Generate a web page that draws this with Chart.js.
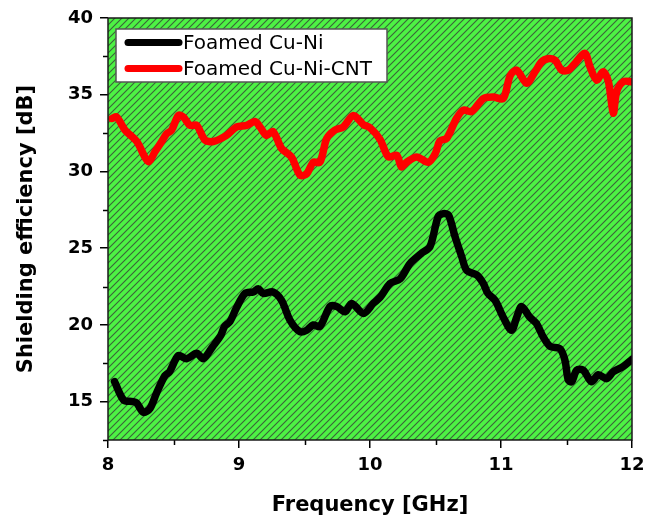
<!DOCTYPE html>
<html>
<head>
<meta charset="utf-8">
<script src="https://cdn.jsdelivr.net/npm/chart.js@4.4.1/dist/chart.umd.min.js"></script>
<style>
  html, body { margin: 0; padding: 0; background: #ffffff; }
  canvas { display: block; }
</style>
</head>
<body>
<canvas id="c" width="646" height="523"></canvas>
<script>
// ---- data ----
const seriesLabels = ['Foamed Cu-Ni', 'Foamed Cu-Ni-CNT'];

const freqCuNi = [8.05, 8.12, 8.19, 8.22, 8.27, 8.32, 8.37, 8.435, 8.47, 8.537,
  8.60, 8.677, 8.728, 8.80, 8.86, 8.89, 8.93, 8.98, 9.046, 9.11,
  9.148, 9.185, 9.26, 9.325, 9.39, 9.466, 9.517, 9.567, 9.618, 9.695,
  9.746, 9.81, 9.86, 9.95, 10.025, 10.077, 10.153, 10.23, 10.305, 10.39,
  10.458, 10.52, 10.56, 10.6, 10.649, 10.70, 10.738, 10.815, 10.865, 10.9,
  10.955, 11.017, 11.08, 11.12, 11.157, 11.22, 11.27, 11.323, 11.374, 11.45,
  11.488, 11.514, 11.54, 11.578, 11.628, 11.69, 11.743, 11.807, 11.857, 11.934,
  12.0];
const seCuNi = [16.3, 15.1, 15.0, 14.9, 14.3, 14.55, 15.55, 16.7, 16.95, 18.0,
  17.8, 18.15, 17.8, 18.6, 19.3, 19.9, 20.2, 21.1, 22.05, 22.15,
  22.35, 22.05, 22.15, 21.6, 20.3, 19.55, 19.65, 20.0, 19.9, 21.2,
  21.2, 20.85, 21.4, 20.75, 21.4, 21.8, 22.7, 23.0, 24.0, 24.65,
  25.1, 27.05, 27.25, 27.15, 25.75, 24.45, 23.55, 23.25, 22.7, 22.05,
  21.6, 20.5, 19.65, 20.5, 21.2, 20.5, 20.1, 19.2, 18.6, 18.45,
  17.7, 16.4, 16.3, 17.05, 17.05, 16.3, 16.75, 16.5, 16.95, 17.3,
  17.75];

const freqCNT = [8.03, 8.066, 8.13, 8.22, 8.307, 8.36, 8.41, 8.447, 8.486, 8.537,
  8.575, 8.626, 8.677, 8.74, 8.804, 8.905, 8.982, 9.058, 9.122, 9.16,
  9.21, 9.26, 9.325, 9.4, 9.466, 9.517, 9.567, 9.618, 9.67, 9.733,
  9.796, 9.873, 9.95, 10.0, 10.076, 10.14, 10.204, 10.24, 10.28, 10.356,
  10.445, 10.5, 10.534, 10.585, 10.66, 10.713, 10.776, 10.865, 10.942, 11.017,
  11.07, 11.12, 11.196, 11.26, 11.31, 11.36, 11.412, 11.463, 11.514, 11.565,
  11.64, 11.68, 11.73, 11.78, 11.82, 11.857, 11.883, 11.934, 12.0];
const seCNT = [33.45, 33.55, 32.7, 31.95, 30.65, 31.3, 31.95, 32.45, 32.7, 33.65,
  33.55, 33.0, 33.0, 32.05, 31.95, 32.35, 32.9, 33.0, 33.25, 32.9,
  32.35, 32.6, 31.5, 30.95, 29.75, 29.85, 30.6, 30.6, 32.15, 32.7,
  32.9, 33.65, 33.05, 32.85, 32.1, 30.95, 31.05, 30.3, 30.6, 30.95,
  30.6, 31.2, 32.0, 32.15, 33.45, 34.0, 33.9, 34.75, 34.85, 34.75,
  36.25, 36.6, 35.75, 36.5, 37.15, 37.35, 37.25, 36.6, 36.6, 37.05,
  37.7, 36.8, 35.95, 36.5, 35.85, 33.8, 35.2, 35.85, 35.85];

const xMajorTicks = [8, 9, 10, 11, 12];
const xMinorTicks = [8.5, 9.5, 10.5, 11.5];
const yMajorTicks = [15, 20, 25, 30, 35, 40];
const yMinorTicks = [12.5, 17.5, 22.5, 27.5, 32.5, 37.5];

// ---- helpers ----
const toPoints = (xs, ys) => xs.map((x, i) => ({ x: x, y: ys[i] }));

function makeHatch() {
  const p = 7;
  const c = document.createElement('canvas');
  c.width = p; c.height = p;
  const g = c.getContext('2d');
  g.fillStyle = '#4df244';
  g.fillRect(0, 0, p, p);
  g.strokeStyle = '#3b633a';
  g.lineWidth = 1.1;
  g.beginPath();
  g.moveTo(-1, p + 1); g.lineTo(p + 1, -1);
  g.moveTo(-1, 1); g.lineTo(1, -1);
  g.moveTo(p - 1, p + 1); g.lineTo(p + 1, p - 1);
  g.stroke();
  return g.createPattern(c, 'repeat');
}

const hatchPlugin = {
  id: 'hatch',
  beforeDraw(chart) {
    const { ctx, chartArea: a } = chart;
    ctx.save();
    ctx.fillStyle = makeHatch();
    ctx.fillRect(a.left, a.top, a.right - a.left, a.bottom - a.top);
    ctx.restore();
  }
};

const framePlugin = {
  id: 'frame',
  afterDatasetsDraw(chart) {
    const { ctx, chartArea: a, scales } = chart;
    ctx.save();
    // minor ticks
    ctx.strokeStyle = '#000';
    ctx.lineWidth = 1.5;
    ctx.beginPath();
    xMinorTicks.forEach(v => {
      const px = Math.round(scales.x.getPixelForValue(v)) + 0.5;
      ctx.moveTo(px, a.bottom); ctx.lineTo(px, a.bottom + 5);
    });
    yMinorTicks.forEach(v => {
      const py = Math.round(scales.y.getPixelForValue(v)) + 0.5;
      ctx.moveTo(a.left, py); ctx.lineTo(a.left - 5, py);
    });
    ctx.stroke();

    // legend box
    const lx = a.left + 8, ly = a.top + 11, lw = 271, lh = 53;
    ctx.fillStyle = '#ffffff';
    ctx.fillRect(lx, ly, lw, lh);
    ctx.strokeStyle = '#555';
    ctx.lineWidth = 1.5;
    ctx.strokeRect(lx, ly, lw, lh);
    chart.data.datasets.forEach((ds, i) => {
      const ry = ly + 13.5 + i * 26;
      ctx.strokeStyle = ds.borderColor;
      ctx.lineWidth = 7;
      ctx.lineCap = 'round';
      ctx.beginPath();
      ctx.moveTo(lx + 12, ry); ctx.lineTo(lx + 63, ry);
      ctx.stroke();
      ctx.fillStyle = '#000';
      ctx.font = '20px "DejaVu Sans"';
      ctx.textBaseline = 'middle';
      ctx.textAlign = 'left';
      ctx.fillText(ds.label, lx + 67, ry + 1);
    });

    // frame
    ctx.strokeStyle = '#1a1a1a';
    ctx.lineWidth = 1.5;
    ctx.lineCap = 'butt';
    ctx.strokeRect(a.left, a.top, a.right - a.left, a.bottom - a.top);
    ctx.restore();
  }
};

const tickFont = { family: '"DejaVu Sans"', size: 18, weight: 'bold' };
const titleFont = { family: '"DejaVu Sans"', size: 21, weight: 'bold' };

new Chart(document.getElementById('c'), {
  type: 'line',
  data: {
    datasets: [
      {
        label: seriesLabels[0],
        data: toPoints(freqCuNi, seCuNi),
        borderColor: '#000000',
        backgroundColor: '#000000',
        borderWidth: 7.5,
        pointRadius: 0,
        tension: 0.3,
        borderCapStyle: 'round',
        borderJoinStyle: 'round',
        fill: false
      },
      {
        label: seriesLabels[1],
        data: toPoints(freqCNT, seCNT),
        borderColor: '#ff0000',
        backgroundColor: '#ff0000',
        borderWidth: 7.5,
        pointRadius: 0,
        tension: 0.3,
        borderCapStyle: 'round',
        borderJoinStyle: 'round',
        fill: false
      }
    ]
  },
  options: {
    responsive: false,
    animation: false,
    devicePixelRatio: 1,
    layout: { padding: { top: 18, right: 14, left: 0, bottom: 0 } },
    plugins: {
      legend: { display: false },
      tooltip: { enabled: false }
    },
    scales: {
      x: {
        type: 'linear',
        min: 8, max: 12,
        afterFit(s) { s.height = 83; s.paddingLeft = 0; s.paddingRight = 0; },
        afterBuildTicks(s) { s.ticks = xMajorTicks.map(v => ({ value: v })); },
        border: { display: false },
        grid: { drawOnChartArea: false, drawTicks: true, tickLength: 8, color: '#000', lineWidth: 1.5 },
        ticks: { font: tickFont, color: '#000', padding: 7, maxRotation: 0,
                 callback: v => String(v) },
        title: { display: true, text: 'Frequency [GHz]', font: titleFont, color: '#000',
                 padding: { top: 0, bottom: 5 } }
      },
      y: {
        type: 'linear',
        min: 12.5, max: 40,
        afterFit(s) { s.width = 108; s.paddingTop = 0; s.paddingBottom = 0; },
        afterBuildTicks(s) { s.ticks = yMajorTicks.map(v => ({ value: v })); },
        border: { display: false },
        grid: { drawOnChartArea: false, drawTicks: true, tickLength: 8, color: '#000', lineWidth: 1.5 },
        ticks: { font: tickFont, color: '#000', padding: 7,
                 callback: v => String(v) },
        title: { display: true, text: 'Shielding efficiency [dB]', font: titleFont, color: '#000',
                 padding: { top: 14, bottom: 0 } }
      }
    }
  },
  plugins: [hatchPlugin, framePlugin]
});
</script>
</body>
</html>
